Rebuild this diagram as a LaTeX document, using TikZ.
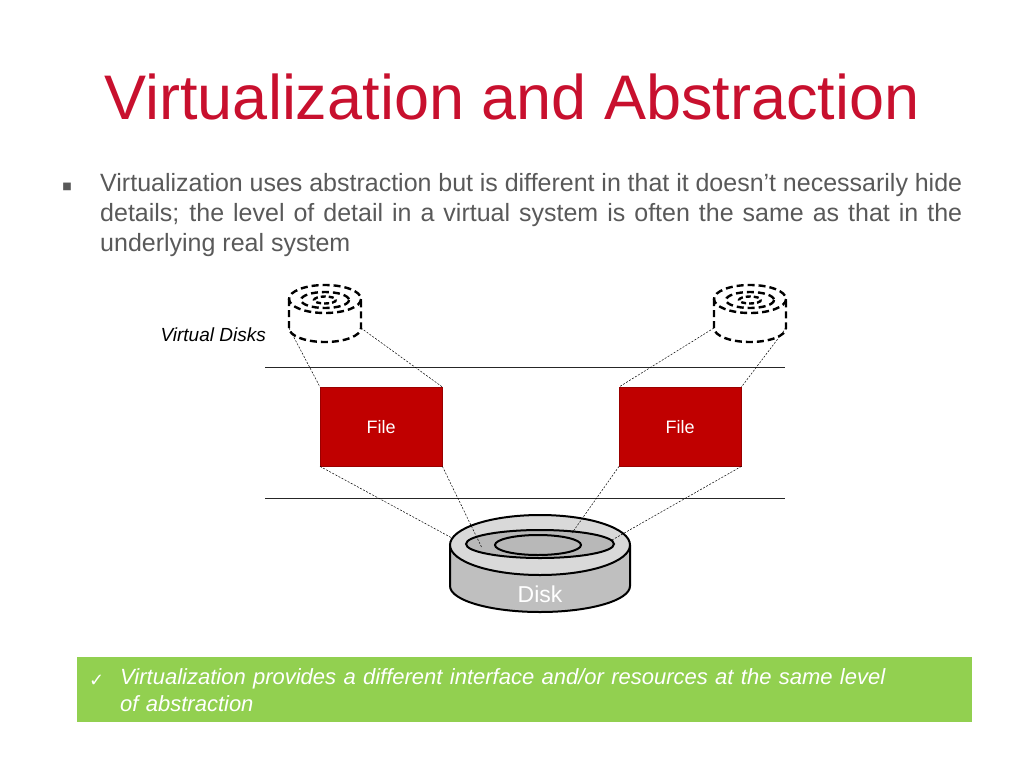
\documentclass[tikz,border=0pt]{standalone}
\usepackage{fontspec}
\setmainfont{Liberation Sans}
\newfontfamily\symfont{DejaVu Sans}
\usetikzlibrary{positioning, calc}
\definecolor{titlered}{RGB}{200,16,46}
\definecolor{filered}{RGB}{192,0,0}
\definecolor{notegreen}{RGB}{146,208,80}
\definecolor{bodygray}{RGB}{89,89,89}
\tikzset{
  filebox/.style={fill=filered, draw=filered!80!black, minimum width=122pt, minimum height=79pt, text=white, font=\fontsize{18}{20}\selectfont, inner sep=0pt},
  vdisk/.style={line width=2.4pt, dash pattern=on 7pt off 4pt},
  guide/.style={line width=0.5pt, dash pattern=on 2pt off 1.5pt},
  layer/.style={line width=1pt, draw=black!85}
}
\begin{document}
\begin{tikzpicture}[x=1pt, y=-1pt]
  \useasboundingbox (0,0) rectangle (1024,768);
  % title and text
  \node[text=titlered, font=\fontsize{63}{70}\selectfont, anchor=base] (title) at (512,119) {Virtualization and Abstraction};
  \node[text=bodygray, font=\fontsize{10}{12}\selectfont, anchor=base] (bullet) at (67,189) {\symfont ■};
  \node[text=bodygray, font=\fontsize{25}{30}\selectfont, text width=862pt, align=justify, anchor=north west, inner sep=0pt] (body) at (100,173)
    {Virtualization uses abstraction but is different in that it doesn’t necessarily hide details; the level of detail in a virtual system is often the same as that in the underlying real system};
  % layers
  \coordinate (ltop) at (265,367); \coordinate (rtop) at (785,367);
  \coordinate (lbot) at (265,498); \coordinate (rbot) at (785,498);
  \draw[layer] (ltop) -- (rtop);
  \draw[layer] (lbot) -- (rbot);
  \node[font=\itshape\fontsize{19}{22}\selectfont, anchor=base east, inner sep=0pt] (vlabel) at (266,341) {Virtual Disks};
  % files
  \node[filebox, anchor=north west] (fileA) at (320,387) {File};
  \node[filebox, anchor=north west] (fileB) at (619,387) {File};
  % virtual disks
  \foreach \cx/\nm in {325/vdA, 750/vdB}{
    \coordinate (\nm) at (\cx,299);
    \draw[vdisk] (\cx-36,299) -- (\cx-36,328) arc[start angle=180, end angle=0, x radius=36, y radius=14] -- (\cx+36,299);
    \draw[vdisk] (\cx,299) ellipse [x radius=36, y radius=14];
    \draw[vdisk] (\cx,300) ellipse [x radius=24, y radius=8];
    \draw[vdisk, dash pattern=on 5pt off 3pt] (\cx,300) ellipse [x radius=11, y radius=3.5];
    \coordinate (\nm-l) at (\cx-36,328);
    \coordinate (\nm-r) at (\cx+36,328);
  }
  % real disk
  \draw[line width=2pt, fill=black!25] (450,545) -- (450,586) arc[start angle=180, end angle=0, x radius=90, y radius=26] -- (630,545);
  \draw[line width=2pt, fill=black!15] (540,545) ellipse [x radius=90, y radius=30];
  \draw[line width=2pt, fill=black!28] (540,544) ellipse [x radius=74, y radius=14];
  \draw[line width=2pt, fill=black!28] (538,545) ellipse [x radius=43, y radius=10];
  \node[text=white, font=\fontsize{23}{24}\selectfont] (disk) at (540,594) {Disk};
  \coordinate (dA1) at (452,538); \coordinate (dA2) at (482,548);
  \coordinate (dB1) at (572,533); \coordinate (dB2) at (612,540);
  % guides
  \draw[guide] (vdA-l) -- (fileA.north west);
  \draw[guide] (vdA-r) -- (fileA.north east);
  \draw[guide] (vdB-l) -- (fileB.north west);
  \draw[guide] (vdB-r) -- (fileB.north east);
  \draw[guide] (fileA.south west) -- (dA1);
  \draw[guide] (fileA.south east) -- (dA2);
  \draw[guide] (fileB.south west) -- (dB1);
  \draw[guide] (fileB.south east) -- (dB2);
  % note
  \node[fill=notegreen, minimum width=895pt, minimum height=65pt, anchor=north west, inner sep=0pt] (note) at (77,657) {};
  \node[text=white, font=\fontsize{18}{22}\selectfont, anchor=base west, inner sep=0pt] (tick) at (89,686) {\symfont ✓};
  \node[text=white, font=\itshape\fontsize{22}{27}\selectfont, anchor=north west, inner sep=0pt, text width=820pt, align=left] (notetext) at (120,668)
    {Virtualization provides a different interface and/or resources at the same level\\of abstraction};
\end{tikzpicture}
\end{document}
